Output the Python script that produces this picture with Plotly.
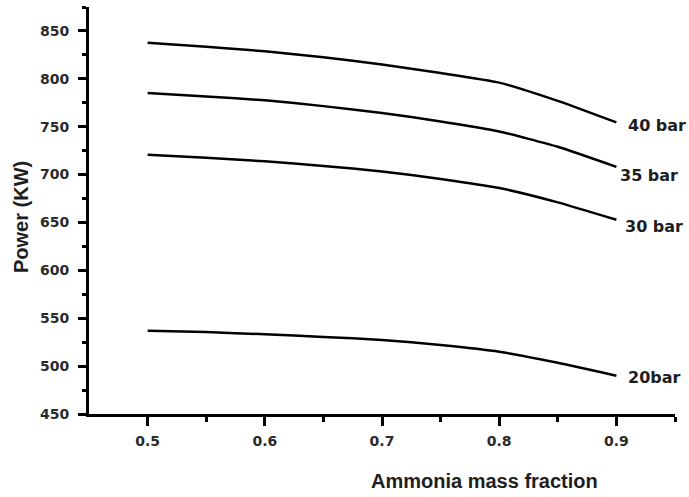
import plotly.graph_objects as go

fraction = [0.5, 0.55, 0.6, 0.65, 0.7, 0.75, 0.8, 0.85, 0.9]
p40 = [837.6, 833.5, 828.8, 822.5, 815.0, 806.0, 796.0, 777.0, 754.5]
p35 = [785.3, 781.5, 777.6, 771.5, 764.4, 755.5, 745.0, 729.0, 708.0]
p30 = [720.8, 717.5, 713.8, 709.0, 703.3, 695.5, 686.0, 671.0, 652.8]
p20 = [537.0, 535.5, 533.3, 530.5, 527.4, 522.0, 515.0, 503.5, 490.0]
series_names = ["40 bar", "35 bar", "30 bar", "20bar"]
x_ticks = [0.5, 0.6, 0.7, 0.8, 0.9]
y_ticks = [450, 500, 550, 600, 650, 700, 750, 800, 850]

series = [p40, p35, p30, p20]
label_shift = [(10, -3), (2, -9), (7, -7), (10, -2)]

fig = go.Figure()
for name, vals in zip(series_names, series):
    fig.add_trace(go.Scatter(x=fraction, y=vals, mode="lines", name=name,
                             line=dict(color="black", width=2.5, shape="spline", smoothing=0.5)))

tick_font = dict(family="DejaVu Sans", size=14, color="#2b2b2b", weight="bold")
for name, vals, (dx, dy) in zip(series_names, series, label_shift):
    fig.add_annotation(x=fraction[-1], y=vals[-1], text=name, showarrow=False,
                       xanchor="left", yanchor="middle", xshift=dx, yshift=dy,
                       font=dict(family="DejaVu Sans", size=16, color="#1e1e1e", weight="bold"))

title_font = dict(family="Liberation Sans, Arial", size=20, color="#1e1e1e", weight="bold")
fig.add_annotation(xref="paper", yref="paper", x=(485 - 89) / (675 - 89), y=(414 - 481) / (414 - 7),
                   text="Ammonia mass fraction", showarrow=False, xanchor="center", yanchor="middle",
                   font=title_font)
fig.add_annotation(xref="paper", yref="paper", x=(21 - 89) / (675 - 89), y=(414 - 217) / (414 - 7),
                   text="Power (KW)", showarrow=False, textangle=-90, xanchor="center", yanchor="middle",
                   font=title_font)

fig.update_xaxes(range=[0.45, 0.95], tickvals=x_ticks, ticktext=[str(v) for v in x_ticks],
                 showline=True, linecolor="black", linewidth=3, ticks="outside", ticklen=9,
                 tickwidth=2.5, tickcolor="black", showgrid=False, zeroline=False,
                 tickfont=tick_font, ticklabelstandoff=3,
                 minor=dict(tickvals=[0.55, 0.65, 0.75, 0.85, 0.95], ticks="outside", ticklen=5,
                            tickwidth=2.5, tickcolor="black", showgrid=False))
fig.update_yaxes(range=[450, 875], tickvals=y_ticks,
                 showline=True, linecolor="black", linewidth=3, ticks="outside", ticklen=8,
                 tickwidth=2.5, tickcolor="black", showgrid=False, zeroline=False,
                 tickfont=tick_font, ticklabelstandoff=6,
                 minor=dict(tickvals=[475, 525, 575, 625, 675, 725, 775, 825, 875], ticks="outside",
                            ticklen=4, tickwidth=2.5, tickcolor="black", showgrid=False))

fig.update_layout(width=689, height=497, showlegend=False, plot_bgcolor="white",
                  paper_bgcolor="white", margin=dict(l=89, r=14, t=7, b=83))

fig.write_html("out.html", config={"displayModeBar": False})

with open("out.html", "r", encoding="utf-8") as f:
    html = f.read()
html = html.replace("<body>", '<body style="margin:0;overflow:hidden">', 1)
with open("out.html", "w", encoding="utf-8") as f:
    f.write(html)
